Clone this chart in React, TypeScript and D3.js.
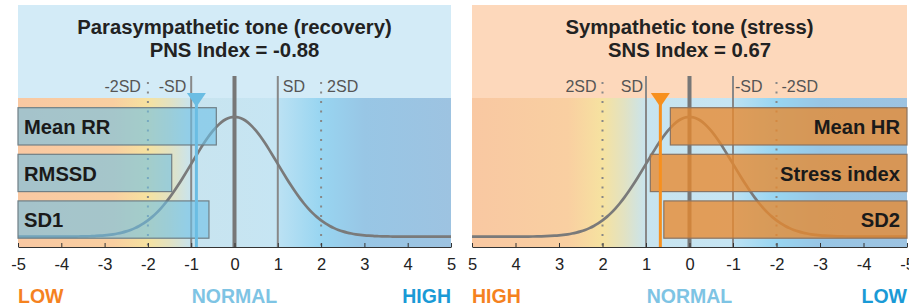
import { useEffect, useRef } from 'react';
import * as d3 from 'd3';

// values
const pnsLabels = ['Mean RR', 'RMSSD', 'SD1'];
const pnsValues = [-0.42, -1.45, -0.59];
const snsLabels = ['Mean HR', 'Stress index', 'SD2'];
const snsValues = [0.44, 0.9, 0.59];
const pnsIndex = -0.88;
const snsIndex = 0.67;
const tickValues = [-5, -4, -3, -2, -1, 0, 1, 2, 3, 4, 5];

const W = 909;
const H = 306;
const FONT = '"Liberation Sans", Arial, sans-serif';

// background gradient stops (offset in fraction of panel width, left to right)
const bgStops = [
  [0, '#f9c8a2'],
  [0.22, '#f9cfa1'],
  [0.3, '#f6e2a0'],
  [0.35, '#e2e2c2'],
  [0.4, '#c8e4ef'],
  [0.6, '#c6e5f3'],
  [0.605, '#bae1f3'],
  [0.7, '#98d5f1'],
  [0.8, '#98c6e5'],
  [1, '#9dc3e1'],
];

const pdf = (v) => Math.exp((-v * v) / 2) / Math.sqrt(2 * Math.PI);

const App = () => {
  const svgRef = useRef(null);

  const top = 5;
  const chartTop = 98;
  const axisY = 247;

  const panels = [
    {
      key: 'pns',
      x: d3.scaleLinear().domain([-5, 5]).range([18, 451]),
      titleBg: '#d3ebf7',
      title: ['Parasympathetic tone (recovery)', 'PNS Index = ' + pnsIndex.toFixed(2)],
      labels: pnsLabels,
      values: pnsValues,
      index: pnsIndex,
      marker: '#6bbde3',
      barFill: '#6cbfe6',
      barOpacity: 0.6,
      barStroke: '#6f7f86',
      side: 'left',
      sdLabels: [
        { v: -2, t: '-2SD', anchor: 'end', dx: -7 },
        { v: -1, t: '-SD', anchor: 'end', dx: -5 },
        { v: 1, t: 'SD', anchor: 'start', dx: 5 },
        { v: 2, t: '2SD', anchor: 'start', dx: 6 },
      ],
      words: [
        { t: 'LOW', c: '#f5821f', anchor: 'start', v: -5 },
        { t: 'NORMAL', c: '#7ec4e4', anchor: 'middle', v: 0 },
        { t: 'HIGH', c: '#1a9ad6', anchor: 'end', v: 5 },
      ],
    },
    {
      key: 'sns',
      x: d3.scaleLinear().domain([5, -5]).range([472, 907]),
      titleBg: '#fdd8bb',
      title: ['Sympathetic tone (stress)', 'SNS Index = ' + snsIndex.toFixed(2)],
      labels: snsLabels,
      values: snsValues,
      index: snsIndex,
      marker: '#f7901e',
      barFill: '#e8892e',
      barOpacity: 0.78,
      barStroke: '#8a7462',
      side: 'right',
      sdLabels: [
        { v: 2, t: '2SD', anchor: 'end', dx: -6 },
        { v: 1, t: 'SD', anchor: 'end', dx: -3 },
        { v: -1, t: '-SD', anchor: 'start', dx: 2 },
        { v: -2, t: '-2SD', anchor: 'start', dx: 5 },
      ],
      words: [
        { t: 'HIGH', c: '#f5821f', anchor: 'start', v: 5 },
        { t: 'NORMAL', c: '#7ec4e4', anchor: 'middle', v: 0 },
        { t: 'LOW', c: '#1a9ad6', anchor: 'end', v: -5 },
      ],
    },
  ];

  const yCurve = d3.scaleLinear().domain([0, pdf(0)]).range([236.7, 116.7]);

  useEffect(() => {
    const svg = d3.select(svgRef.current);
    svg.selectAll('.axis').remove();
    panels.forEach((p) => {
      const g = svg
        .append('g')
        .attr('class', 'axis')
        .attr('transform', `translate(0, ${axisY})`)
        .call(
          d3
            .axisBottom(p.x)
            .tickValues(tickValues)
            .tickSizeInner(-4)
            .tickSizeOuter(0)
            .tickPadding(11)
            .tickFormat((d) => String(d))
        );
      g.select('.domain').attr('stroke', '#333');
      g.selectAll('.tick line').attr('stroke', '#333');
      g.selectAll('.tick text')
        .attr('fill', '#222')
        .style('font-size', '16.5px')
        .style('font-family', FONT);
    });
  }, []);

  return (
    <svg
      ref={svgRef}
      width={W}
      height={H}
      style={{ position: 'absolute', left: 0, top: 0, background: '#fff' }}
    >
      <defs>
        <linearGradient id="bg" x1="0" x2="1" y1="0" y2="0">
          {bgStops.map(([o, c]) => (
            <stop key={o} offset={o} stopColor={c} />
          ))}
        </linearGradient>
      </defs>
      {panels.map((p) => {
        const [x0, x1] = [p.x(p.side === 'left' ? -5 : 5), p.x(p.side === 'left' ? 5 : -5)];
        const y = d3
          .scaleBand()
          .domain(p.labels)
          .range([107.7, 238.2])
          .paddingInner(0.2)
          .paddingOuter(0);
        const line = d3
          .line()
          .x((v) => p.x(v))
          .y((v) => yCurve(pdf(v)))
          .curve(d3.curveBasis);
        const curvePts = d3.range(-5, 5.001, 0.1);
        const mx = p.x(p.index);
        return (
          <g key={p.key}>
            <rect x={x0} y={top} width={x1 - x0} height={chartTop - top} fill={p.titleBg} />
            <rect x={x0} y={chartTop} width={x1 - x0} height={axisY - chartTop} fill="url(#bg)" />
            <text
              x={(x0 + x1) / 2}
              y={34}
              textAnchor="middle"
              fontFamily={FONT}
              fontWeight="bold"
              fontSize={20.3}
              fill="#222"
            >
              {p.title[0]}
            </text>
            <text
              x={(x0 + x1) / 2}
              y={56.5}
              textAnchor="middle"
              fontFamily={FONT}
              fontWeight="bold"
              fontSize={20.3}
              fill="#222"
            >
              {p.title[1]}
            </text>
            {/* 2SD dotted lines */}
            {[-2, 2].map((v) => (
              <line
                key={'d' + v}
                x1={p.x(v)}
                x2={p.x(v)}
                y1={82}
                y2={axisY}
                stroke="#888"
                strokeWidth={2}
                strokeDasharray="2,7.5"
              />
            ))}
            {[-1, 1].map((v) => (
              <line
                key={'s' + v}
                x1={p.x(v)}
                x2={p.x(v)}
                y1={76}
                y2={axisY}
                stroke="#888"
                strokeWidth={2}
              />
            ))}
            <line x1={p.x(0)} x2={p.x(0)} y1={76} y2={axisY} stroke="#777" strokeWidth={4} />
            {p.sdLabels.map((s) => (
              <text
                key={s.t}
                x={p.x(s.v) + s.dx}
                y={92}
                textAnchor={s.anchor}
                fontFamily={FONT}
                fontSize={16}
                fill="#555"
              >
                {s.t}
              </text>
            ))}
            <path d={line(curvePts)} fill="none" stroke="#7a7a7a" strokeWidth={2.7} />
            {p.labels.map((name, i) => {
              const v = p.values[i];
              const bx = p.side === 'left' ? x0 : p.x(v);
              const bw = p.side === 'left' ? p.x(v) - x0 : x1 - p.x(v);
              return (
                <g key={name}>
                  <rect
                    x={bx}
                    y={y(name)}
                    width={bw}
                    height={y.bandwidth()}
                    fill={p.barFill}
                    fillOpacity={p.barOpacity}
                    stroke={p.barStroke}
                    strokeWidth={1.2}
                  />
                  <text
                    x={p.side === 'left' ? x0 + 6 : x1 - 7}
                    y={y(name) + y.bandwidth() / 2}
                    dy="0.38em"
                    textAnchor={p.side === 'left' ? 'start' : 'end'}
                    fontFamily={FONT}
                    fontWeight="bold"
                    fontSize={20.2}
                    fill="#1a1a1a"
                  >
                    {name}
                  </text>
                </g>
              );
            })}
            <line x1={mx} x2={mx} y1={95} y2={axisY} stroke={p.marker} strokeWidth={3} />
            <path d={`M${mx - 9.5},93 L${mx + 9.5},93 L${mx},107 Z`} fill={p.marker} />
            {p.words.map((w) => (
              <text
                key={w.t}
                x={p.x(w.v)}
                y={303}
                textAnchor={w.anchor}
                fontFamily={FONT}
                fontWeight="bold"
                fontSize={19.5}
                fill={w.c}
              >
                {w.t}
              </text>
            ))}
          </g>
        );
      })}
    </svg>
  );
};

export default App;
